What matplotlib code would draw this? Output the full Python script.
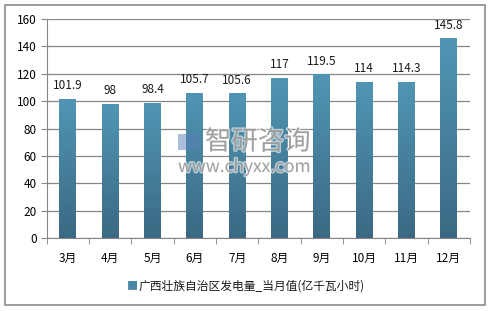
import numpy as np
import matplotlib.pyplot as plt
from matplotlib.patches import Rectangle
from matplotlib.colors import LinearSegmentedColormap
import matplotlib.patheffects as pe

plt.rcParams['font.family'] = ['Noto Sans CJK SC', 'DejaVu Sans']

months = ['3月', '4月', '5月', '6月', '7月', '8月', '9月', '10月', '11月', '12月']
values = [101.9, 98, 98.4, 105.7, 105.6, 117, 119.5, 114, 114.3, 145.8]
labels = ['101.9', '98', '98.4', '105.7', '105.6', '117', '119.5', '114', '114.3', '145.8']
series_name = '广西壮族自治区发电量_当月值(亿千瓦小时)'

fig = plt.figure(figsize=(4.93, 3.11), dpi=100)
# outer frame
fig.patches.append(Rectangle((5 / 493, 1 - 305 / 311), 480 / 493, 300 / 311,
                             transform=fig.transFigure, fill=False,
                             edgecolor='#8c8c8c', linewidth=1.2))

ax = fig.add_axes([46.7 / 493, 1 - 238 / 311, (470 - 46.7) / 493, (238 - 19) / 311])
x = np.arange(len(months))
bars = ax.bar(x, values, width=0.4, color='#4a88a6', zorder=3)

# vertical gradient on each bar
cmap = LinearSegmentedColormap.from_list('g', ['#3b6983', '#5096b4'])
grad = np.linspace(0, 1, 256).reshape(-1, 1)
for b in bars:
    x0, y0 = b.get_x(), b.get_y()
    w, h = b.get_width(), b.get_height()
    im = ax.imshow(grad, cmap=cmap, origin='lower', aspect='auto',
                   extent=[x0, x0 + w, y0, y0 + h], zorder=3)
    im.set_clip_path(b)
    b.set_facecolor('none')

for xi, v, t in zip(x, values, labels):
    ax.text(xi, v + 5, t, ha='center', va='bottom', fontsize=8.5, color='#1a1a1a', zorder=5)

ax.set_xlim(-0.5, len(months) - 0.5)
ax.set_ylim(0, 160)
ax.set_yticks(np.arange(0, 161, 20))
ax.set_xticks(x)
ax.set_xticklabels(months)
ax.set_xticks(np.arange(-0.5, len(months)), minor=True)
ax.tick_params(axis='x', which='major', length=0, pad=10, labelsize=8.5)
ax.tick_params(axis='x', which='minor', length=4, color='#868686')
ax.tick_params(axis='y', length=4, color='#868686', labelsize=8.5, pad=3)
ax.grid(axis='y', color='#868686', linewidth=0.9, zorder=0)
for s in ['top', 'right']:
    ax.spines[s].set_visible(False)
ax.spines['left'].set_color('#868686')
ax.spines['bottom'].set_color('#868686')

# watermark
halo = [pe.withStroke(linewidth=2, foreground='white', alpha=0.6)]
fig.text(205 / 493, 1 - 142 / 311, '智研咨询', fontsize=19, color='#8a8a8a', alpha=0.75,
         ha='left', va='center', path_effects=halo, zorder=10)
fig.text(178 / 493, 1 - 167 / 311, 'www.chyxx.com', fontsize=12.5, color='#8a8a8a', alpha=0.75,
         ha='left', va='center', path_effects=halo, zorder=10)
fig.patches.append(Rectangle((178 / 493, 1 - 150 / 311), 22 / 493, 16 / 311, transform=fig.transFigure,
                             facecolor='#5a7fb5', alpha=0.5, edgecolor='none', zorder=10))

# legend
fig.text(0.268, 1 - 286 / 311, '■', fontsize=8, color='#4a88a6', ha='center', va='center')
fig.text(0.282, 1 - 286 / 311, series_name, fontsize=8.5, color='#1a1a1a', ha='left', va='center')

fig.savefig('out.png', dpi=100)
